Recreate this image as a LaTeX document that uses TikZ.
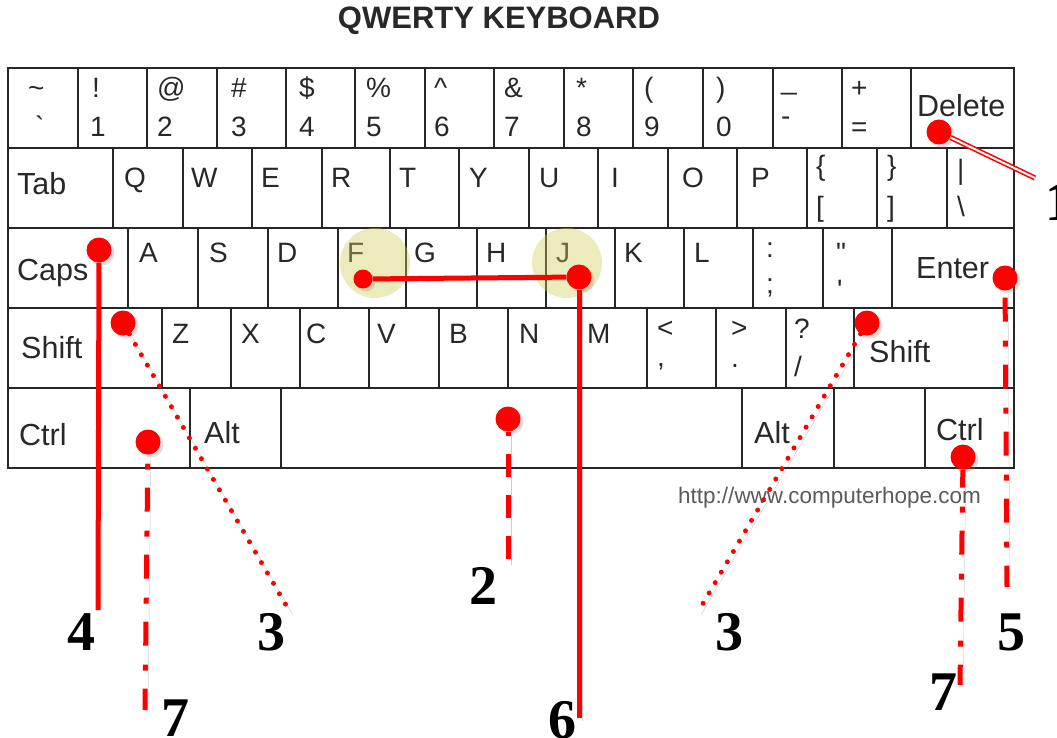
\documentclass[tikz,border=0pt]{standalone}
\usepackage{fontspec}
\setmainfont{Liberation Sans}
\newfontfamily\lblfont{Liberation Serif}
\usetikzlibrary{shadows}
\definecolor{kred}{RGB}{255,0,0}
\definecolor{halocol}{RGB}{205,205,85}
\definecolor{ktext}{RGB}{40,40,40}
\definecolor{urlcol}{RGB}{90,90,90}
\tikzset{
  keyline/.style={line width=2pt, draw=black!85},
  ksym/.style={anchor=base west, inner sep=0pt, text=ktext, font=\fontsize{28}{28}\selectfont},
  kname/.style={anchor=base west, inner sep=0pt, text=ktext, font=\fontsize{30.5}{30.5}\selectfont},
  reddot/.style={circle, fill=kred, inner sep=0pt, minimum size=25pt,
    drop shadow={opacity=0.25, shadow xshift=3pt, shadow yshift=-3pt}},
  smalldot/.style={reddot, minimum size=19pt},
  halonode/.style={circle, fill=halocol, fill opacity=0.4, inner sep=0pt, minimum size=70pt},
  lshadow/.style={preaction={draw=black, opacity=0.2, transform canvas={shift={(3pt,-3pt)}}}},
  redline/.style={draw=kred, line width=5pt, lshadow},
  dashline/.style={redline, dash pattern=on 23pt off 18pt},
  dashdot/.style={redline, dash pattern=on 24pt off 19pt on 6pt off 18pt},
  dotline/.style={redline, line cap=round, dash pattern=on 0pt off 12pt},
  dblline/.style={draw=kred, line width=1.6pt, double=white, double distance=2pt, lshadow},
  lbl/.style={inner sep=0pt, text=black, font=\lblfont\bfseries\fontsize{56}{56}\selectfont},
}
\begin{document}
\begin{tikzpicture}[x=1pt, y=-1pt]
\useasboundingbox (0,0) rectangle (1057,738);
% title
\node[font=\bfseries\fontsize{31}{31}\selectfont, text=ktext, inner sep=0pt] (title) at (499,21) {QWERTY KEYBOARD};
% keyboard frame
\draw[keyline] (8,68) rectangle (1014,468);
\foreach \y in {148,228,308,388} \draw[keyline] (8,\y) -- (1014,\y);
\foreach \x in {78,147,217,286,355,425,494,564,633,703,773,842,911} \draw[keyline] (\x,68) -- (\x,148);
\foreach \x in {113,183,252,322,390,459,529,598,668,737,807,877,947} \draw[keyline] (\x,148) -- (\x,228);
\foreach \x in {128,198,268,338,406,477,546,615,684,753,823,892} \draw[keyline] (\x,228) -- (\x,308);
\foreach \x in {162,231,300,369,439,508,578,647,716,786,854} \draw[keyline] (\x,308) -- (\x,388);
\foreach \x in {190,281,742,834,925} \draw[keyline] (\x,388) -- (\x,468);
% row 1
\node[ksym] (r1a) at (28,98) {\textasciitilde};
\node[ksym] (r1b) at (35,137) {\textasciigrave};
\node[ksym] (r1c) at (92,98) {!};
\node[ksym] (r1d) at (90,137) {1};
\node[ksym] (r1e) at (157,98) {@};
\node[ksym] (r1f) at (157,137) {2};
\node[ksym] (r1g) at (231,98) {\#};
\node[ksym] (r1h) at (231,137) {3};
\node[ksym] (r1i) at (299,98) {\$};
\node[ksym] (r1j) at (299,137) {4};
\node[ksym] (r1k) at (366,98) {\%};
\node[ksym] (r1l) at (366,137) {5};
\node[ksym] (r1m) at (434,98) {\textasciicircum};
\node[ksym] (r1n) at (434,137) {6};
\node[ksym] (r1o) at (504,98) {\&};
\node[ksym] (r1p) at (504,137) {7};
\node[ksym] (r1q) at (576,98) {*};
\node[ksym] (r1r) at (576,137) {8};
\node[ksym] (r1s) at (644,98) {(};
\node[ksym] (r1t) at (644,137) {9};
\node[ksym] (r1u) at (716,98) {)};
\node[ksym] (r1v) at (716,137) {0};
\node[ksym] (r1w) at (781,90) {\_};
\node[ksym] (r1x) at (781,126) {-};
\node[ksym] (r1y) at (851,98) {+};
\node[ksym] (r1z) at (851,137) {=};
\node[kname] (kDel) at (917,117) {Delete};
% row 2
\node[kname] (kTab) at (17,195) {Tab};
\node[ksym] (kQ) at (124,188) {Q};
\node[ksym] (kW) at (191,188) {W};
\node[ksym] (kE) at (261,188) {E};
\node[ksym] (kR) at (331,188) {R};
\node[ksym] (kT) at (399,188) {T};
\node[ksym] (kY) at (469,188) {Y};
\node[ksym] (kU) at (539,188) {U};
\node[ksym] (kI) at (611,188) {I};
\node[ksym] (kO) at (682,188) {O};
\node[ksym] (kP) at (751,188) {P};
\node[ksym] (r2a) at (816,176) {\{};
\node[ksym] (r2b) at (816,216) {[};
\node[ksym] (r2c) at (887,176) {\}};
\node[ksym] (r2d) at (887,216) {]};
\node[ksym] (r2e) at (957,180) {\textbar};
\node[ksym] (r2f) at (957,216) {\textbackslash};
% row 3
\node[kname] (kCaps) at (17,280) {Caps};
\node[ksym] (kA) at (139,262) {A};
\node[ksym] (kS) at (209,262) {S};
\node[ksym] (kD) at (277,262) {D};
\node[ksym] (kF) at (347,262) {F};
\node[ksym] (kG) at (414,262) {G};
\node[ksym] (kH) at (486,262) {H};
\node[ksym] (kJ) at (556,262) {J};
\node[ksym] (kK) at (624,262) {K};
\node[ksym] (kL) at (694,262) {L};
\node[ksym] (r3a) at (766,257) {:};
\node[ksym] (r3b) at (766,293) {;};
\node[ksym] (r3c) at (836,262) {\textquotedbl};
\node[ksym] (r3d) at (837,299) {\textquotesingle};
\node[kname] (kEnter) at (916,278) {Enter};
% row 4
\node[kname] (kShiftL) at (21,358) {Shift};
\node[ksym] (kZ) at (172,343) {Z};
\node[ksym] (kX) at (241,343) {X};
\node[ksym] (kC) at (306,343) {C};
\node[ksym] (kV) at (377,343) {V};
\node[ksym] (kB) at (449,343) {B};
\node[ksym] (kN) at (519,343) {N};
\node[ksym] (kM) at (587,343) {M};
\node[ksym] (r4a) at (657,337) {\textless};
\node[ksym] (r4b) at (657,366) {,};
\node[ksym] (r4c) at (731,337) {\textgreater};
\node[ksym] (r4d) at (731,367) {.};
\node[ksym] (r4e) at (794,338) {?};
\node[ksym] (r4f) at (794,376) {/};
\node[kname] (kShiftR) at (869,362) {Shift};
% row 5
\node[kname] (kCtrlL) at (19,445) {Ctrl};
\node[kname] (kAltL) at (204,443) {Alt};
\node[kname] (kAltR) at (754,443) {Alt};
\node[kname] (kCtrlR) at (936,440) {Ctrl};
% url
\node[anchor=base west, inner sep=0pt, text=urlcol, font=\fontsize{22.5}{22.5}\selectfont] (url) at (678,503) {http://www.computerhope.com};
% halos
\node[halonode] (hF) at (375,263) {};
\node[halonode] (hJ) at (567,263) {};
% dots
\node[reddot] (dDel) at (939,132) {};
\node[reddot] (dCaps) at (99,250) {};
\node[smalldot] (dF) at (363,279) {};
\node[reddot] (dJ) at (579,277) {};
\node[reddot] (dEnter) at (1005,278) {};
\node[reddot] (dShL) at (123,323) {};
\node[reddot] (dShR) at (867,323) {};
\node[reddot] (dCtL) at (148,442) {};
\node[reddot] (dSpace) at (508,419) {};
\node[reddot] (dCtR) at (963,457) {};
% free ends
\coordinate (eDel) at (1035,178);
\coordinate (eCaps) at (98,610);
\coordinate (eJ) at (579,718);
\coordinate (eEnter) at (1007,587);
\coordinate (eShL) at (290,612);
\coordinate (eShR) at (698,612);
\coordinate (eCtL) at (145,710);
\coordinate (eSpace) at (508,562);
\coordinate (eCtR) at (960,685);
% connectors
\draw[dblline] (dDel) -- (eDel);
\draw[redline] (dCaps) -- (eCaps);
\draw[redline] (dF) -- (dJ);
\draw[redline] (dJ) -- (eJ);
\draw[dashdot, dash phase=60pt] (dEnter) -- (eEnter);
\draw[dotline] (dShL) -- (eShL);
\draw[dotline] (dShR) -- (eShR);
\draw[dashdot, dash phase=34pt] (dCtL) -- (eCtL);
\draw[dashline, dash phase=19pt] (dSpace) -- (eSpace);
\draw[dashdot, dash phase=6pt] (dCtR) -- (eCtR);
% labels
\node[lbl, anchor=base west] (n1) at (1045,220) {1};
\node[lbl] (n2) at (483,586) {2};
\node[lbl] (n3a) at (271,632) {3};
\node[lbl] (n3b) at (729,632) {3};
\node[lbl] (n4) at (81,632) {4};
\node[lbl] (n5) at (1011,632) {5};
\node[lbl] (n6) at (562,720) {6};
\node[lbl] (n7a) at (175,718) {7};
\node[lbl] (n7b) at (943,692) {7};
\end{tikzpicture}
\end{document}
